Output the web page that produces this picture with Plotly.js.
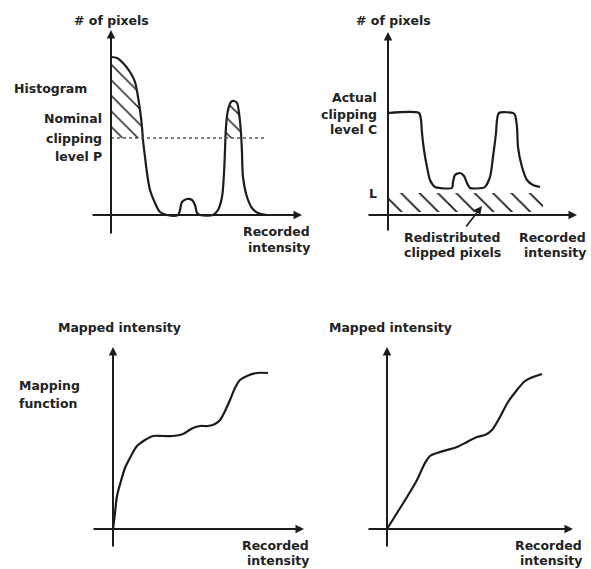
<!DOCTYPE html>
<html>
<head>
<meta charset="utf-8">
<script src="https://cdn.plot.ly/plotly-3.0.1.min.js"></script>
<style>html,body{margin:0;padding:0;background:#fff;}#chart{width:591px;height:569px;}</style>
</head>
<body>
<div id="chart"></div>
<script>
// ---- Data (arbitrary units; origin of each panel at 0,0) ----
// Panel 1: original histogram
const histX = [0,6,12,19,24,27,29,31,32,34,36,39,44,49,56,67,69,71,76,81,84,86,89,102,107,111,113,114,115,117,120,123,126,128,130,131,132,136,141,147,156];
const histY = [158,157,152,143,133,118,105,88,75,58,42,25,12,3,0,0,5,13,16,15,10,2,0,0,5,18,42,65,88,105,113,114,112,102,82,62,38,18,7,2,0];
const nominalP = 77;
const nominalPX = [0, 154];

// Panel 2: clipped histogram
const clipX = [0,31,33,34,36,39,42,47,52,64,65,67,72,76,79,82,94,97,102,105,108,109,111,125,127,129,130,134,139,145,152];
const clipY = [102,102,95,82,65,48,35,28,27,27,33,40,42,39,32,27,27,28,38,58,82,95,102,102,100,88,68,48,35,30,28];
const levelL = 22;
const redistBandX = [0, 155];
const redistBandBottom = 3;

// Panel 3: mapping function (from original histogram)
const map1X = [0,2,4,8,12,18,24,32,40,50,60,70,75,80,87,95,102,107,112,117,122,127,134,144,155];
const map1Y = [0,16,33,48,61,73,83,89,93,93,93,95,98,101,103,103,105,109,118,129,141,149,153,156,156];

// Panel 4: mapping function (from clipped histogram)
const map2X = [0,10,20,30,38,43,50,60,70,80,90,98,105,113,121,130,138,146,155];
const map2Y = [0,16,32,49,66,73,76,79,82,87,92,94,99,112,127,139,148,152,155];

// ---- Layout geometry (pixels) ----
const W = 591, H = 569;
const px = x => x / W;
const py = y => 1 - y / H;
// panel boxes [left, top, right, bottom] and origin [ox, oy] in pixels
const panels = [
  {box:[0,0,300,285],   org:[111,215]},
  {box:[300,0,591,285], org:[388,215]},
  {box:[0,285,300,569], org:[113,529]},
  {box:[300,285,591,569], org:[387,529]}
];

const INK = '#1c1c1c';
const FONT = {family: 'DejaVu Sans, sans-serif', size: 12.5, color: '#222', weight: 'bold'};

// regions of a curve above a level, as closed polygons
function regionsAbove(xs, ys, level) {
  const polys = [];
  let cur = null;
  for (let i = 0; i < xs.length; i++) {
    const above = ys[i] >= level;
    if (above) {
      if (!cur) {
        cur = {x: [], y: []};
        if (i === 0) { cur.x.push(xs[0]); cur.y.push(level); }
        else {
          const t = (level - ys[i-1]) / (ys[i] - ys[i-1]);
          cur.x.push(xs[i-1] + t * (xs[i] - xs[i-1])); cur.y.push(level);
        }
      }
      cur.x.push(xs[i]); cur.y.push(ys[i]);
    } else if (cur) {
      const t = (level - ys[i-1]) / (ys[i] - ys[i-1]);
      cur.x.push(xs[i-1] + t * (xs[i] - xs[i-1])); cur.y.push(level);
      polys.push(cur); cur = null;
    }
  }
  if (cur) polys.push(cur);
  return polys;
}

const traces = [];
const axN = ['', '2', '3', '4'];

// Panel 1 hatch (clipped parts)
regionsAbove(histX, histY, nominalP).forEach(p => {
  traces.push({x: p.x.concat([p.x[0]]), y: p.y.concat([p.y[0]]), xaxis: 'x', yaxis: 'y',
    mode: 'lines', line: {width: 0, color: 'rgba(0,0,0,0)'}, fill: 'toself',
    fillcolor: 'rgba(0,0,0,0)', hoverinfo: 'skip', showlegend: false,
    fillpattern: {shape: '\\', size: 11, solidity: 0.14, fgcolor: INK, bgcolor: 'rgba(0,0,0,0)'}});
});
// Panel 1 curve
traces.push({x: histX, y: histY, xaxis: 'x', yaxis: 'y', mode: 'lines',
  line: {color: INK, width: 2.2, shape: 'spline', smoothing: 0.9}, showlegend: false});
// Nominal clipping level P
traces.push({x: nominalPX, y: [nominalP, nominalP], xaxis: 'x', yaxis: 'y', mode: 'lines',
  line: {color: '#555', width: 1.3, dash: 'dot'}, showlegend: false});

// Panel 2 redistributed band
traces.push({x: [redistBandX[0], redistBandX[1], redistBandX[1], redistBandX[0], redistBandX[0]],
  y: [redistBandBottom, redistBandBottom, levelL, levelL, redistBandBottom],
  xaxis: 'x2', yaxis: 'y2', mode: 'lines', line: {width: 0, color: 'rgba(0,0,0,0)'},
  fill: 'toself', fillcolor: 'rgba(0,0,0,0)', showlegend: false, hoverinfo: 'skip',
  fillpattern: {shape: '\\', size: 13, solidity: 0.14, fgcolor: INK, bgcolor: 'rgba(0,0,0,0)'}});
// Panel 2 curve
traces.push({x: clipX, y: clipY, xaxis: 'x2', yaxis: 'y2', mode: 'lines',
  line: {color: INK, width: 2.2, shape: 'spline', smoothing: 0.7}, showlegend: false});

// Panel 3, 4 curves
traces.push({x: map1X, y: map1Y, xaxis: 'x3', yaxis: 'y3', mode: 'lines',
  line: {color: INK, width: 2.2, shape: 'spline', smoothing: 0.9}, showlegend: false});
traces.push({x: map2X, y: map2Y, xaxis: 'x4', yaxis: 'y4', mode: 'lines',
  line: {color: INK, width: 2.2, shape: 'spline', smoothing: 0.9}, showlegend: false});

const layout = {
  width: W, height: H, margin: {l: 0, r: 0, t: 0, b: 0},
  paper_bgcolor: '#fff', plot_bgcolor: 'rgba(0,0,0,0)', showlegend: false,
  annotations: []
};

panels.forEach((p, i) => {
  const [l, t, r, b] = p.box, [ox, oy] = p.org;
  layout['xaxis' + axN[i]] = {domain: [px(l), px(r)], range: [l - ox, r - ox], visible: false,
    fixedrange: true, anchor: 'y' + axN[i]};
  layout['yaxis' + axN[i]] = {domain: [py(b), py(t)], range: [oy - b, oy - t], visible: false,
    fixedrange: true, anchor: 'x' + axN[i]};
});

// axis arrows per panel: [yBottom, yTop, xLeft, xRight]
const axisExt = [[-20, 185, -20, 191], [-17, 183, -21, 189], [-19, 182, -21, 191], [-19, 182, -20, 186]];
axisExt.forEach((e, i) => {
  const xr = 'x' + axN[i], yr = 'y' + axN[i];
  layout.annotations.push({xref: xr, yref: yr, axref: xr, ayref: yr, x: 0, y: e[1], ax: 0, ay: e[0],
    text: '', showarrow: true, arrowhead: 2, arrowsize: 0.85, arrowwidth: 2, arrowcolor: INK, standoff: 0});
  layout.annotations.push({xref: xr, yref: yr, axref: xr, ayref: yr, x: e[3], y: 0, ax: e[2], ay: 0,
    text: '', showarrow: true, arrowhead: 2, arrowsize: 0.85, arrowwidth: 2, arrowcolor: INK, standoff: 0});
});
// pointer to redistributed pixels
layout.annotations.push({xref: 'x2', yref: 'y2', axref: 'x2', ayref: 'y2', x: 94, y: 9, ax: 77, ay: -13,
  text: '', showarrow: true, arrowhead: 2, arrowsize: 1, arrowwidth: 1.6, arrowcolor: INK, standoff: 0});

// text labels: [text, x px, y px, xanchor]
const labels = [
  ['# of pixels', 111, 21, 'center'],
  ['Histogram', 12, 88, 'left'],
  ['Nominal', 104, 119, 'right'],
  ['clipping', 104, 138, 'right'],
  ['level P', 104, 156, 'right'],
  ['Recorded', 312, 231, 'right'],
  ['intensity', 312, 248, 'right'],
  ['# of pixels', 393, 21, 'center'],
  ['Actual', 379, 98, 'right'],
  ['clipping', 379, 114, 'right'],
  ['level C', 379, 129, 'right'],
  ['L', 379, 193, 'right'],
  ['Redistributed', 402, 237, 'left'],
  ['clipped pixels', 402, 252, 'left'],
  ['Recorded', 588, 237, 'right'],
  ['intensity', 588, 252, 'right'],
  ['Mapped intensity', 119, 328, 'center'],
  ['Mapping', 17, 385, 'left'],
  ['function', 17, 403, 'left'],
  ['Recorded', 311, 545, 'right'],
  ['intensity', 311, 560, 'right'],
  ['Mapped intensity', 390, 328, 'center'],
  ['Recorded', 584, 545, 'right'],
  ['intensity', 584, 560, 'right']
];
labels.forEach(([t, x, y, xa]) => {
  layout.annotations.push({xref: 'paper', yref: 'paper', x: px(x), y: py(y), text: t,
    showarrow: false, xanchor: xa, yanchor: 'middle', font: FONT});
});

Plotly.newPlot('chart', traces, layout, {staticPlot: true, displayModeBar: false});
</script>
</body>
</html>
